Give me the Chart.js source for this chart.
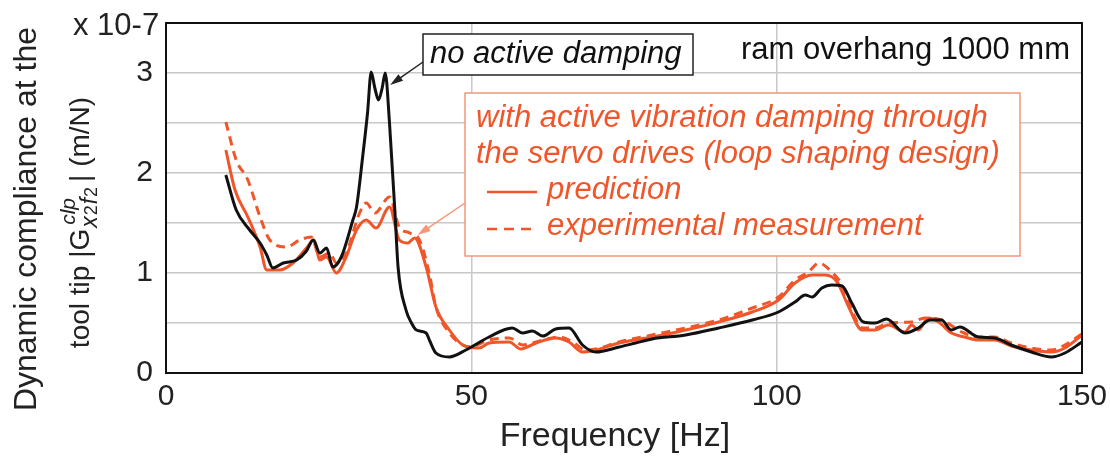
<!DOCTYPE html>
<html>
  <head>
    <script src="https://cdn.jsdelivr.net/npm/chart.js"></script>
    <style>
      body {
        margin: 0;
        padding: 0;
        background: #fff;
        overflow: hidden;
      }
      canvas {
        display: block;
      }
    </style>
  </head>
  <body>
    <canvas id="complianceChart" width="1110" height="456"></canvas>
    <script>
      // axis ticks: frequency in Hz, compliance in units of 1e-7 m/N
      const xTicks = [0, 50, 100, 150];
      const yTicks = [0, 1, 2, 3];

      // no active damping (black)
      const noDampHz = [9.8, 11.5, 13.7, 15.4, 16.5, 17.5, 19.2, 21.4, 23.0, 24.1, 25.2, 26.3, 27.3, 28.7, 30.6, 31.2, 32.2, 33.0, 33.6, 34.2, 34.8, 35.4, 35.9, 36.6, 37.1, 37.5, 38.0, 39.3, 40.2, 41.0, 42.6, 43.2, 44.2, 46.4, 49.1, 52.9, 56.7, 58.4, 60.0, 61.7, 63.8, 66.0, 68.2, 70.4, 74.2, 76.9, 79.6, 85.1, 90.5, 96.0, 100.3, 103.0, 104.7, 105.8, 107.4, 109.0, 110.7, 112.3, 114.2, 116.1, 118.0, 121.0, 123.2, 125.1, 127.0, 128.6, 130.0, 133.0, 135.7, 138.4, 141.7, 145.0, 147.2, 150];
      const noDampVal = [1.98, 1.63, 1.43, 1.30, 1.18, 1.05, 1.10, 1.13, 1.22, 1.33, 1.20, 1.25, 1.06, 1.16, 1.53, 1.66, 2.16, 2.60, 3.01, 2.85, 2.73, 2.85, 3.0, 2.5, 2.0, 1.6, 1.06, 0.63, 0.50, 0.43, 0.40, 0.32, 0.20, 0.16, 0.23, 0.36, 0.45, 0.40, 0.42, 0.37, 0.44, 0.45, 0.28, 0.21, 0.26, 0.30, 0.34, 0.38, 0.45, 0.53, 0.61, 0.71, 0.78, 0.76, 0.85, 0.88, 0.87, 0.70, 0.51, 0.50, 0.54, 0.40, 0.45, 0.53, 0.53, 0.43, 0.46, 0.36, 0.35, 0.28, 0.21, 0.16, 0.20, 0.31];

      // active damping, prediction (orange solid)
      const predHz = [9.8, 11.3, 13.4, 15.4, 16.5, 18.6, 20.8, 23.0, 24.2, 25.2, 26.3, 27.9, 29.5, 31.2, 32.8, 34.4, 36.6, 38.2, 39.6, 40.7, 42.6, 44.2, 46.4, 48.6, 51.3, 52.9, 56.2, 58.1, 60.6, 63.8, 66.0, 68.2, 70.4, 74.2, 79.6, 85.1, 90.5, 96.0, 100.3, 103.0, 105.8, 108.0, 109.9, 111.8, 114.0, 116.1, 118.3, 121.0, 122.1, 123.2, 124.8, 126.5, 128.6, 130.8, 133.0, 135.7, 138.4, 141.7, 145.0, 147.2, 150];
      const predVal = [2.23, 1.83, 1.56, 1.26, 1.03, 1.03, 1.10, 1.25, 1.33, 1.13, 1.16, 1.00, 1.16, 1.43, 1.53, 1.45, 1.66, 1.33, 1.30, 1.35, 1.06, 0.66, 0.43, 0.28, 0.25, 0.30, 0.31, 0.24, 0.30, 0.35, 0.31, 0.21, 0.23, 0.30, 0.36, 0.43, 0.51, 0.61, 0.73, 0.90, 0.98, 0.98, 0.91, 0.66, 0.43, 0.43, 0.48, 0.41, 0.48, 0.43, 0.55, 0.51, 0.40, 0.36, 0.33, 0.33, 0.27, 0.23, 0.21, 0.25, 0.38];

      // active damping, experimental measurement (orange dashed)
      const measHz = [9.8, 11.5, 13.4, 15.4, 17.0, 19.7, 21.9, 23.8, 25.2, 26.8, 27.9, 29.5, 31.7, 32.8, 34.2, 36.6, 38.2, 39.9, 41.5, 43.1, 44.2, 46.4, 48.6, 49.7, 52.9, 56.2, 58.4, 61.7, 64.4, 66.6, 68.7, 70.4, 74.2, 79.6, 85.1, 90.5, 96.0, 100.3, 103.0, 105.2, 106.9, 109.0, 110.7, 112.3, 114.0, 116.1, 118.3, 122.1, 124.3, 127.0, 130.3, 133.0, 135.7, 138.4, 141.7, 145.0, 147.2, 150];
      const measVal = [2.51, 2.13, 1.93, 1.56, 1.33, 1.26, 1.33, 1.36, 1.16, 1.20, 1.10, 1.20, 1.60, 1.70, 1.60, 1.76, 1.46, 1.40, 1.33, 1.00, 0.66, 0.40, 0.28, 0.26, 0.33, 0.35, 0.28, 0.33, 0.36, 0.31, 0.23, 0.24, 0.31, 0.38, 0.45, 0.53, 0.65, 0.76, 0.93, 1.01, 1.10, 1.01, 0.88, 0.63, 0.45, 0.45, 0.50, 0.51, 0.55, 0.53, 0.41, 0.36, 0.36, 0.30, 0.25, 0.23, 0.28, 0.39];

      const ORANGE = "#f0562a";
      const FONT = "'Liberation Sans', Arial, sans-serif";

      const toPoints = (xs, ys) => xs.map((x, i) => ({ x: x, y: ys[i] }));

      function arrow(ctx, x0, y0, x1, y1, color) {
        const ang = Math.atan2(y1 - y0, x1 - x0);
        ctx.strokeStyle = color;
        ctx.fillStyle = color;
        ctx.lineWidth = 1.5;
        ctx.beginPath();
        ctx.moveTo(x0, y0);
        ctx.lineTo(x1 - 8 * Math.cos(ang), y1 - 8 * Math.sin(ang));
        ctx.stroke();
        ctx.beginPath();
        ctx.moveTo(x1, y1);
        ctx.lineTo(x1 - 13 * Math.cos(ang) + 4 * Math.sin(ang), y1 - 13 * Math.sin(ang) - 4 * Math.cos(ang));
        ctx.lineTo(x1 - 13 * Math.cos(ang) - 4 * Math.sin(ang), y1 - 13 * Math.sin(ang) + 4 * Math.cos(ang));
        ctx.closePath();
        ctx.fill();
      }

      // frame, axis titles, text boxes and arrows
      const annotations = {
        id: "annotations",
        afterDatasetsDraw(chart) {
          const { ctx, chartArea: a, scales } = chart;
          const xs = scales.x;
          const ys = scales.y;
          ctx.save();

          ctx.strokeStyle = "#111";
          ctx.lineWidth = 2;
          ctx.strokeRect(a.left, a.top, a.right - a.left, a.bottom - a.top);

          ctx.fillStyle = "#222";
          ctx.textBaseline = "alphabetic";
          ctx.textAlign = "left";
          ctx.font = "31px " + FONT;
          ctx.fillText("x 10-7", 73, 35);

          // x title
          ctx.textAlign = "center";
          ctx.font = "34px " + FONT;
          ctx.fillText("Frequency [Hz]", 615, 446);

          // y title, two rotated lines
          ctx.save();
          ctx.translate(36, 219);
          ctx.rotate(-Math.PI / 2);
          ctx.font = "32px " + FONT;
          ctx.fillText("Dynamic compliance at the", 0, 0);
          ctx.restore();

          ctx.save();
          ctx.translate(89, 223);
          ctx.rotate(-Math.PI / 2);
          ctx.textAlign = "left";
          const main = "28px " + FONT;
          const subBig = "italic 23px " + FONT;
          const subSmall = "18px " + FONT;
          const sup = "italic 21px " + FONT;
          const parts = [["x", subBig], ["2", subSmall], ["f", subBig], ["2", subSmall]];
          ctx.font = main;
          const w1 = ctx.measureText("tool tip |G").width;
          const w3 = ctx.measureText("| (m/N)").width;
          let wSub = 0;
          parts.forEach(([t, f]) => { ctx.font = f; wSub += ctx.measureText(t).width + 1; });
          ctx.font = sup;
          const wSup = ctx.measureText("clp").width;
          const w2 = Math.max(wSub, wSup) + 4;
          let cx = -(w1 + w2 + w3) / 2;
          ctx.font = main;
          ctx.fillText("tool tip |G", cx, 0);
          cx += w1 + 1;
          let sx = cx;
          parts.forEach(([t, f]) => {
            ctx.font = f;
            ctx.fillText(t, sx, 8);
            sx += ctx.measureText(t).width + 1;
          });
          ctx.font = sup;
          ctx.fillText("clp", cx + 3, -14);
          cx += w2;
          ctx.font = main;
          ctx.fillText("| (m/N)", cx, 0);
          ctx.restore();

          // "no active damping" box
          ctx.fillStyle = "#fff";
          ctx.fillRect(423, 34, 270, 41);
          ctx.strokeStyle = "#222";
          ctx.lineWidth = 1.5;
          ctx.strokeRect(423, 34, 270, 41);
          ctx.fillStyle = "#111";
          ctx.textAlign = "left";
          ctx.font = "italic 31px " + FONT;
          ctx.fillText("no active damping", 430, 63);
          arrow(ctx, 423, 62, xs.getPixelForValue(36.7), ys.getPixelForValue(2.88), "#222");

          ctx.font = "31px " + FONT;
          ctx.textAlign = "right";
          ctx.fillStyle = "#111";
          ctx.fillText("ram overhang 1000 mm", 1070, 59);

          // legend box for the damped case
          ctx.fillStyle = "#fff";
          ctx.fillRect(465, 93, 555, 163);
          ctx.strokeStyle = "#f4967a";
          ctx.lineWidth = 1.5;
          ctx.strokeRect(465, 93, 555, 163);
          ctx.fillStyle = ORANGE;
          ctx.textAlign = "left";
          ctx.font = "italic 31px " + FONT;
          ctx.fillText("with active vibration damping through", 476, 127);
          ctx.fillText("the servo drives (loop shaping design)", 476, 163);
          ctx.fillText("prediction", 547, 199);
          ctx.fillText("experimental measurement", 547, 235);
          ctx.strokeStyle = ORANGE;
          ctx.lineWidth = 2.5;
          ctx.beginPath();
          ctx.moveTo(487, 192);
          ctx.lineTo(537, 192);
          ctx.stroke();
          ctx.setLineDash([10, 7]);
          ctx.beginPath();
          ctx.moveTo(487, 229);
          ctx.lineTo(537, 229);
          ctx.stroke();
          ctx.setLineDash([]);
          arrow(ctx, 465, 203, xs.getPixelForValue(41.2), ys.getPixelForValue(1.38), "#f4967a");

          ctx.restore();
        },
      };

      const chartData = {
        datasets: [
          {
            label: "no active damping",
            data: toPoints(noDampHz, noDampVal),
            borderColor: "#111",
            borderWidth: 3,
          },
          {
            label: "prediction",
            data: toPoints(predHz, predVal),
            borderColor: ORANGE,
            borderWidth: 3,
          },
          {
            label: "experimental measurement",
            data: toPoints(measHz, measVal),
            borderColor: ORANGE,
            borderWidth: 3,
            borderDash: [9, 6],
          },
        ],
      };

      const options = {
        responsive: false,
        animation: false,
        devicePixelRatio: 1,
        layout: { padding: { left: 0, top: 23, right: 28, bottom: 0 } },
        elements: {
          point: { radius: 0 },
          line: { cubicInterpolationMode: "monotone" },
        },
        plugins: {
          legend: { display: false },
          tooltip: { enabled: false },
        },
        scales: {
          x: {
            type: "linear",
            min: 0,
            max: 150,
            afterFit: (s) => {
              s.height = 83;
              s.paddingLeft = 0;
              s.paddingRight = 0;
            },
            grid: { color: "#c8c8c8", lineWidth: 1.5, drawTicks: false },
            border: { color: "#111", width: 2 },
            ticks: {
              stepSize: 50,
              padding: 6,
              color: "#222",
              font: { family: FONT, size: 30 },
              callback: (v) => (xTicks.includes(v) ? String(v) : ""),
            },
          },
          y: {
            min: 0,
            max: 3.5,
            afterFit: (s) => {
              s.width = 166;
              s.paddingTop = 0;
              s.paddingBottom = 0;
            },
            grid: { color: "#c8c8c8", lineWidth: 1.5, drawTicks: false },
            border: { color: "#111", width: 2 },
            ticks: {
              stepSize: 0.5,
              padding: 13,
              color: "#222",
              font: { family: FONT, size: 30 },
              callback: (v) => (yTicks.includes(v) ? String(v) : ""),
            },
          },
        },
      };

      const ctx = document.getElementById("complianceChart").getContext("2d");
      new Chart(ctx, {
        type: "line",
        data: chartData,
        options: options,
        plugins: [annotations],
      });
    </script>
  </body>
</html>
